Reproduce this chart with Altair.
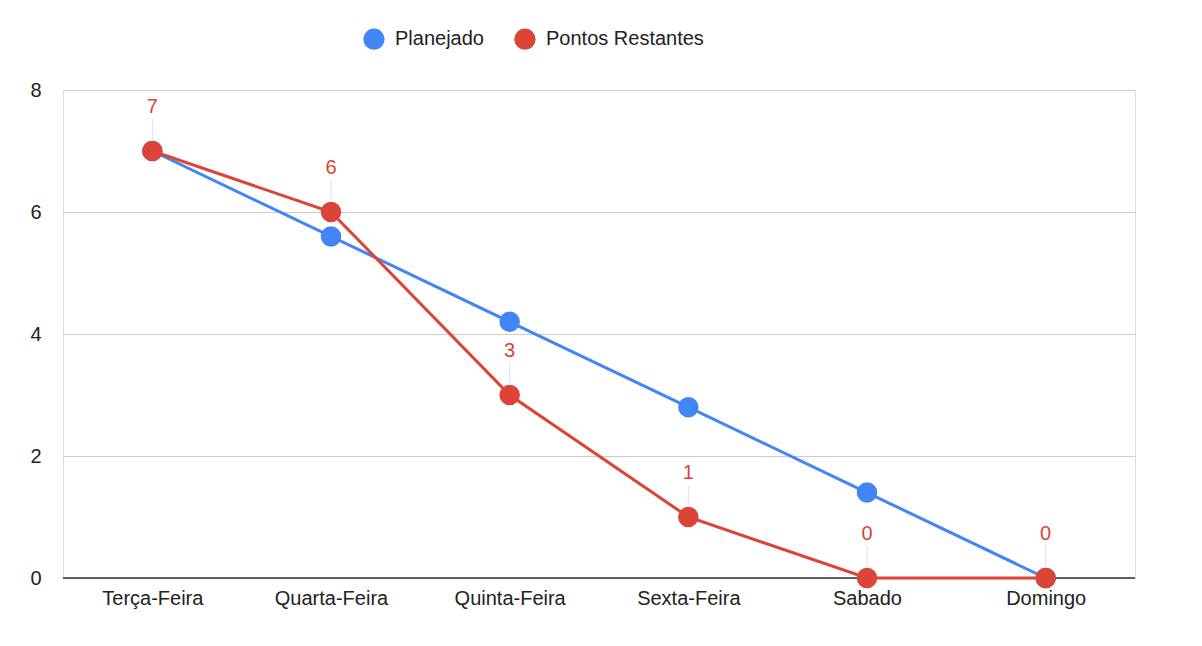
import pandas as pd
import altair as alt

days = ["Terça-Feira", "Quarta-Feira", "Quinta-Feira", "Sexta-Feira", "Sabado", "Domingo"]
planejado = [7, 5.6, 4.2, 2.8, 1.4, 0]
restantes = [7, 6, 3, 1, 0, 0]

series = ["Planejado", "Pontos Restantes"]
colors = ["#4285F4", "#DB4437"]

df = pd.DataFrame({
    "Dia": days * 2,
    "Valor": planejado + restantes,
    "Serie": [series[0]] * len(days) + [series[1]] * len(days),
})
df_r = pd.DataFrame({"Dia": days, "Valor": restantes})

font = "Liberation Sans"
xscale = alt.Scale(type="point", padding=0.5)
x = alt.X("Dia:N", sort=days, title=None, scale=xscale,
          axis=alt.Axis(labelAngle=0, labelFontSize=20, labelColor="#222",
                        labelFont=font, ticks=False, domain=False, labelPadding=10))
y = alt.Y("Valor:Q", title=None,
          scale=alt.Scale(domain=[0, 8]),
          axis=alt.Axis(values=[0, 2, 4, 6, 8], format="d", labelFontSize=20, labelColor="#222",
                        labelFont=font, ticks=False, domain=False, labelPadding=22,
                        gridColor="#cccccc"))
color = alt.Color("Serie:N", sort=series,
                  scale=alt.Scale(domain=series, range=colors),
                  legend=alt.Legend(title=None, orient="none", direction="horizontal",
                                    legendX=300, legendY=-62, symbolType="circle",
                                    symbolSize=450, symbolStrokeWidth=0,
                                    labelFontSize=20, labelFont=font, labelColor="#222",
                                    columnPadding=30, labelOffset=10))

base = alt.Chart(df)
lines = base.mark_line(strokeWidth=3).encode(x=x, y=y, color=color)
points = base.mark_circle(size=420, opacity=1).encode(x=x, y=y, color=color)

xr = alt.X("Dia:N", sort=days, scale=xscale)
leaders = alt.Chart(df_r).mark_rule(color="#e0e0e0", strokeWidth=1, yOffset=-12, y2Offset=-32).encode(
    x=xr, y="Valor:Q", y2="Valor:Q")
labels = alt.Chart(df_r).mark_text(dy=-44, fontSize=20, font=font, color="#DB4437").encode(
    x=xr, y="Valor:Q", text="Valor:Q")
baseline = alt.Chart(pd.DataFrame({"v": [0]})).mark_rule(color="#333", strokeWidth=1.5).encode(y="v:Q")

chart = alt.layer(baseline, lines, leaders, labels, points).properties(
    width=1072, height=488,
    autosize=alt.AutoSizeParams(type="none"),
    padding={"left": 55, "top": 82, "right": 50, "bottom": 60},
).configure_view(strokeWidth=0).configure(background="white")

chart.save("out.html", embed_options={"renderer": "svg", "actions": False})
